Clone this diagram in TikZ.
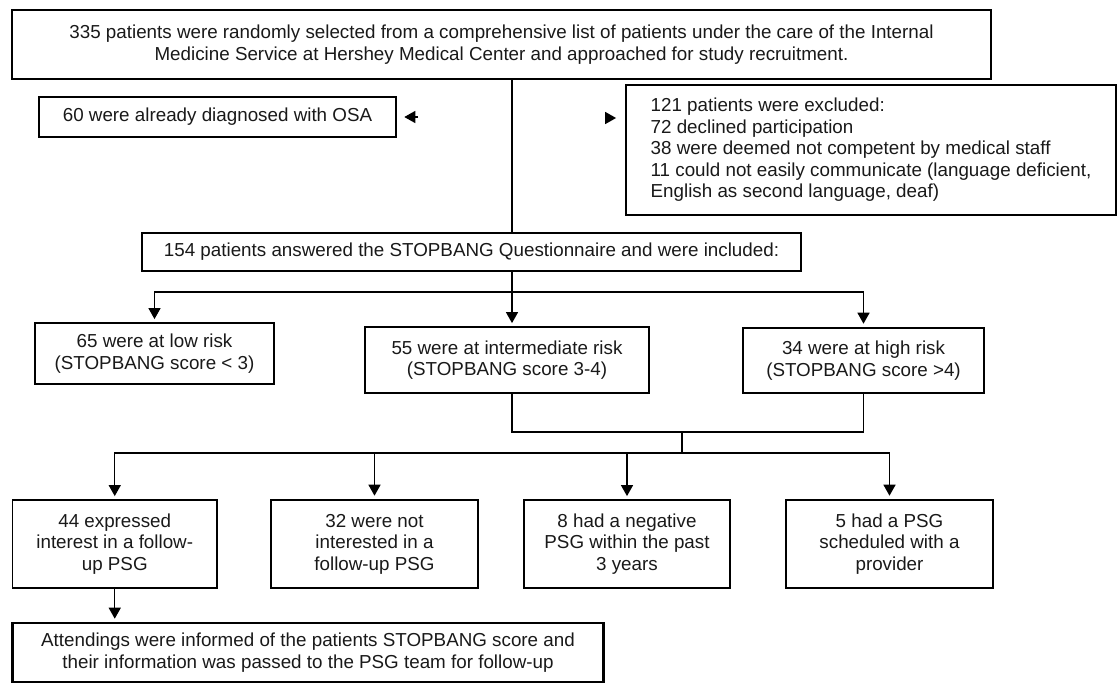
\documentclass[tikz,border=0pt]{standalone}
\usepackage{fontspec}
\setmainfont{Liberation Sans}
\usetikzlibrary{arrows.meta}
\begin{document}
\begin{tikzpicture}[x=1pt,y=-1pt,
  every node/.style={font=\fontsize{18.8}{21.5}\selectfont, inner sep=0pt, text=black!90},
  boxthick/.style={draw, line width=2.6pt, align=center},
  boxthin/.style={draw, line width=1.8pt, align=center},
  conn/.style={line width=1.4pt},
  arr/.style={line width=1.4pt, -{Triangle[width=12pt,length=11pt]}, shorten >=3pt}]
\useasboundingbox (0,0) rectangle (1118,683);
% boxes
\node[boxthick, minimum width=979pt, minimum height=69pt] (top) at (501.5,44.5)
  {335 patients were randomly selected from a comprehensive list of patients under the care of the Internal\\
   Medicine Service at Hershey Medical Center and approached for study recruitment.};
\node[boxthick, minimum width=357pt, minimum height=40pt] (osa) at (217.5,117)
  {60 were already diagnosed with OSA};
\node[boxthin, align=left, minimum width=490pt, minimum height=130pt] (excl) at (871,150)
  {121 patients were excluded:\\72 declined participation\\38 were deemed not competent by medical staff\\11 could not easily communicate (language deficient,\\English as second language, deaf)};
\node[boxthick, minimum width=659pt, minimum height=38pt] (q154) at (471.5,252)
  {154 patients answered the STOPBANG Questionnaire and were included:};
\node[boxthin, minimum width=239pt, minimum height=61pt] (low) at (154.5,353.5)
  {65 were at low risk\\(STOPBANG score < 3)};
\node[boxthin, minimum width=284pt, minimum height=66pt] (mid) at (507,360)
  {55 were at intermediate risk\\(STOPBANG score 3-4)};
\node[boxthick, minimum width=241pt, minimum height=65pt] (high) at (863.5,360.5)
  {34 were at high risk\\(STOPBANG score >4)};
\node[boxthin, minimum width=204.5pt, minimum height=88pt] (b44) at (114.75,544)
  {44 expressed\\interest in a follow-\\up PSG};
\node[boxthick, minimum width=207pt, minimum height=88pt] (b32) at (374.5,544)
  {32 were not\\interested in a\\follow-up PSG};
\node[boxthin, minimum width=206pt, minimum height=88pt] (b8) at (627,544)
  {8 had a negative\\PSG within the past\\3 years};
\node[boxthick, minimum width=207pt, minimum height=88pt] (b5) at (889.5,544)
  {5 had a PSG\\scheduled with a\\provider};
\node[boxthick, minimum width=591pt, minimum height=59pt] (att) at (308,652.5)
  {Attendings were informed of the patients STOPBANG score and\\their information was passed to the PSG team for follow-up};
% connectors
\coordinate (v) at (512,0);
\coordinate (s1) at (512,292);
\coordinate (j) at (682,432);
\coordinate (k) at (682,453);
\draw[conn] (top.south -| v) -- (q154.north -| v);
\draw[arr, shorten >=7pt, shorten <=94pt] (512,117) -- (osa.east);
\draw[arr, shorten >=9pt, shorten <=94pt] (512,118) -- (excl.west |- 512,118);
\draw[arr] (q154.south -| v) -- (mid.north -| v);
\draw[arr] (s1) -| (low.north);
\draw[arr] (s1) -| (high.north);
\draw[conn] (mid.south -| v) |- (j) -| (high.south);
\draw[conn] (j) -- (k);
\draw[arr] (k) -| (b44.north);
\draw[arr] (k) -| (b5.north);
\draw[arr] (b32.north |- k) -- (b32.north);
\draw[arr] (b8.north |- k) -- (b8.north);
\draw[arr] (b44.south) -- (att.north -| b44.south);
\end{tikzpicture}
\end{document}
